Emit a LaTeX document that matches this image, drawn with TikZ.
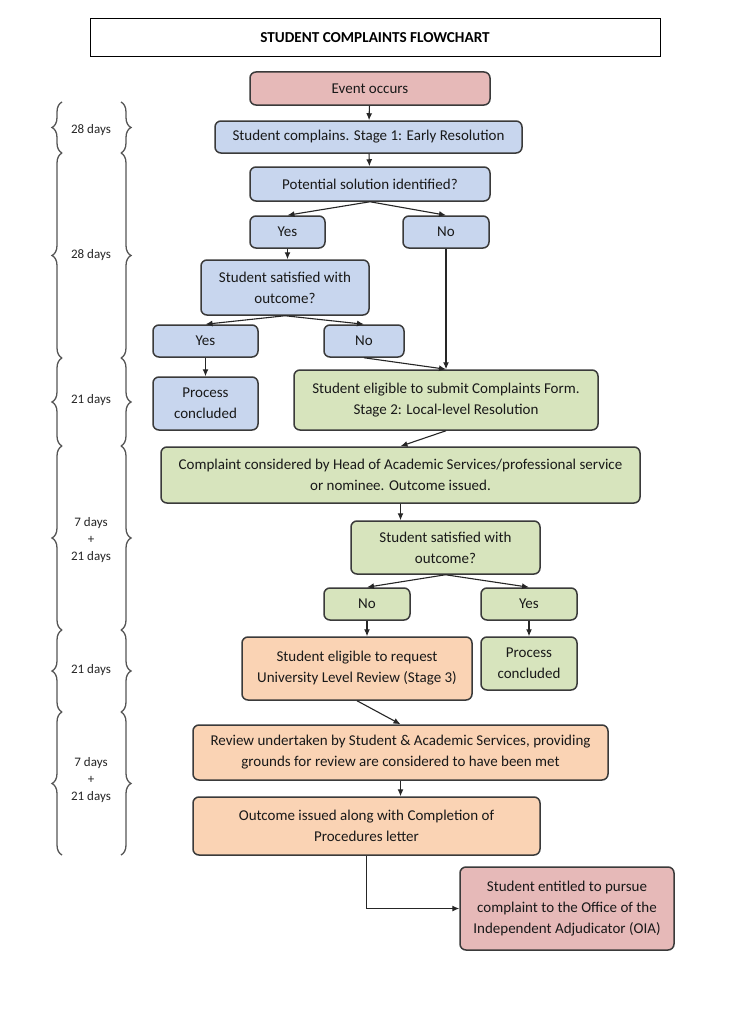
\documentclass[tikz,border=0pt]{standalone}
\usepackage{fontspec}
\setmainfont{Carlito}
\usetikzlibrary{arrows.meta,decorations.pathreplacing}
\definecolor{pinkf}{HTML}{E6B9B8}
\definecolor{bluef}{HTML}{C8D6EE}
\definecolor{greenf}{HTML}{D7E4BD}
\definecolor{orangef}{HTML}{FAD3B4}
\definecolor{bord}{HTML}{3A3A3A}
\definecolor{bracec}{HTML}{555555}
\begin{document}
\begin{tikzpicture}[x=1pt,y=-1pt,
  box/.style={draw=bord,line width=1.5pt,rounded corners=6pt,align=center,
    inner sep=0pt,font=\fontsize{15}{21}\selectfont,text=black!90},
  pk/.style={box,fill=pinkf},
  bl/.style={box,fill=bluef},
  gr/.style={box,fill=greenf},
  og/.style={box,fill=orangef},
  arr/.style={draw=black!85,line width=1.1pt,-{Latex[length=7pt,width=6pt]}},
  brc/.style={draw=bracec,line width=1.3pt,decorate,decoration={brace,amplitude=10pt}},
  days/.style={font=\fontsize{13}{17}\selectfont,align=center,text=black!85}
]
\useasboundingbox (0,0) rectangle (753,1025);
\fill[white] (0,0) rectangle (753,1025);

\node[draw=black,line width=1pt,minimum width=570pt,minimum height=38pt,
  font=\fontsize{15.2}{18}\selectfont\bfseries] (title) at (375,38) {STUDENT COMPLAINTS FLOWCHART};

\node[pk,minimum width=240pt,minimum height=33pt] (event) at (370,88.5) {Event occurs};
\node[bl,minimum width=307pt,minimum height=32pt] (s1) at (368.5,137) {Student complains. Stage 1: Early Resolution};
\node[bl,minimum width=240pt,minimum height=34pt] (pot) at (370,184) {Potential solution identified?};
\node[bl,minimum width=75pt,minimum height=32pt] (yes1) at (287.5,232) {Yes};
\node[bl,minimum width=86pt,minimum height=32pt] (no1) at (446,232) {No};
\node[bl,minimum width=168pt,minimum height=55pt] (sat1) at (285,287.5) {Student satisfied with\\outcome?};
\node[bl,minimum width=105pt,minimum height=32pt] (yes2) at (205.5,341) {Yes};
\node[bl,minimum width=80pt,minimum height=32pt] (no2) at (364,341) {No};
\node[bl,minimum width=105pt,minimum height=53pt] (pc1) at (205.5,403.5) {Process\\concluded};
\node[gr,minimum width=304pt,minimum height=60pt] (s2) at (446,400) {Student eligible to submit Complaints Form.\\Stage 2: Local-level Resolution};
\node[gr,minimum width=479pt,minimum height=56pt] (comp) at (400.5,475) {Complaint considered by Head of Academic Services/professional service\\or nominee. Outcome issued.};
\node[gr,minimum width=189pt,minimum height=53pt] (sat2) at (445.5,547.5) {Student satisfied with\\outcome?};
\node[gr,minimum width=86pt,minimum height=32pt] (no3) at (367,604) {No};
\node[gr,minimum width=96pt,minimum height=32pt] (yes3) at (529,604) {Yes};
\node[og,minimum width=230pt,minimum height=63pt] (s3) at (357,668.5) {Student eligible to request\\University Level Review (Stage 3)};
\node[gr,minimum width=96pt,minimum height=53pt] (pc2) at (529,663.5) {Process\\concluded};
\node[og,minimum width=415pt,minimum height=55pt] (rev) at (400.5,752.5) {Review undertaken by Student \& Academic Services, providing\\grounds for review are considered to have been met};
\node[og,minimum width=347pt,minimum height=58pt] (out) at (366.5,826) {Outcome issued along with Completion of\\Procedures letter};
\node[pk,minimum width=214pt,minimum height=83pt] (oia) at (567,908.5) {Student entitled to pursue\\complaint to the Office of the\\Independent Adjudicator (OIA)};

\draw[arr] (event) -- (s1);
\draw[arr] (s1) -- (pot);
\draw[arr] (pot.south) -- (yes1.north);
\draw[arr] (pot.south) -- (no1.north);
\draw[arr] (yes1) -- (yes1 |- sat1.north);
\draw[arr] (sat1.south) -- (yes2.north);
\draw[arr] (sat1.south) -- (no2.north);
\draw[arr] (yes2) -- (pc1);
\draw[arr] (no2.south) -- (s2.north);
\draw[arr] (no1.south) -- (s2.north);
\draw[arr] (s2.south) -- (comp.north);
\draw[arr] (comp.south) -- (comp.south |- sat2.north);
\draw[arr] (sat2.south) -- (no3.north);
\draw[arr] (sat2.south) -- (yes3.north);
\draw[arr] (no3.south) -- (no3.south |- s3.north);
\draw[arr] (yes3) -- (pc2);
\draw[arr] (s3.south) -- (rev.north);
\draw[arr] (rev.south) -- (rev.south |- out.north);
\draw[arr] (out.south) |- (oia.west);

% braces
\coordinate (b0) at (0,102);
\coordinate (b1) at (0,153);
\coordinate (b2) at (0,358);
\coordinate (b3) at (0,446);
\coordinate (b4) at (0,630);
\coordinate (b5) at (0,712);
\coordinate (b6) at (0,855);
\foreach \a/\b in {b0/b1,b1/b2,b2/b3,b3/b4,b4/b5,b5/b6}{
  \draw[brc] (\b -| 62,0) -- (\a -| 62,0);
  \draw[brc] (\a -| 121,0) -- (\b -| 121,0);
}
\node[days] (d1) at (91,130) {28 days};
\node[days] (d2) at (91,255) {28 days};
\node[days] (d3) at (91,400) {21 days};
\node[days] (d4) at (91,540) {7 days\\+\\21 days};
\node[days] (d5) at (91,670) {21 days};
\node[days] (d6) at (91,780) {7 days\\+\\21 days};
\end{tikzpicture}
\end{document}
